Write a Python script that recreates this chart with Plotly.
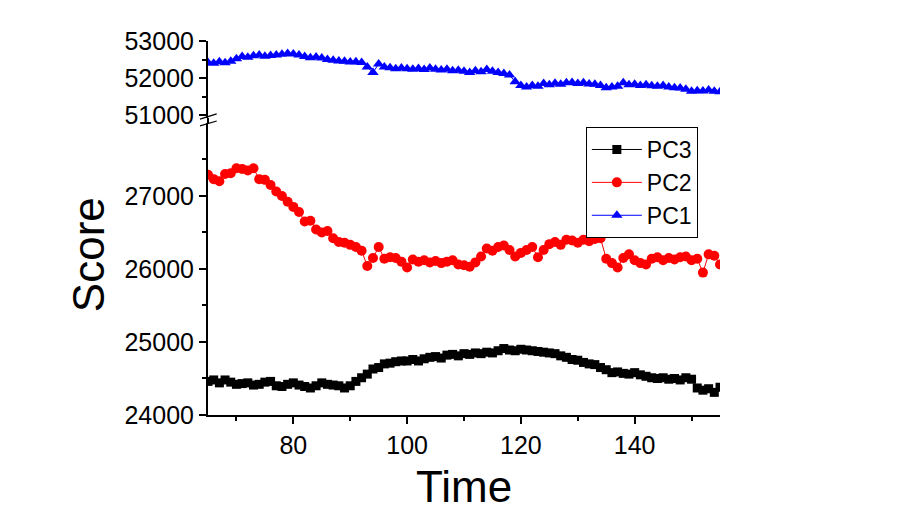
import plotly.graph_objects as go

time = list(range(65, 156))

pc1 = [52420, 52400, 52440, 52410, 52450, 52520,
       52580, 52560, 52600, 52620, 52590,
       52610, 52620, 52640, 52660, 52650,
       52620, 52580, 52550, 52570, 52540,
       52500, 52480, 52460, 52450, 52430,
       52440, 52420, 52300, 52150, 52380,
       52300, 52280, 52250, 52270, 52250,
       52240, 52260, 52230, 52270, 52240,
       52220, 52240, 52200, 52210, 52180,
       52150, 52200, 52170, 52230, 52180,
       52150, 52120, 52080, 51900, 51800,
       51760, 51800, 51780, 51850, 51820,
       51860, 51830, 51870, 51880, 51850,
       51870, 51840, 51830, 51800, 51740,
       51760, 51780, 51870, 51820, 51830,
       51800, 51820, 51790, 51780, 51800,
       51760, 51740, 51730, 51700, 51640,
       51660, 51650, 51680, 51640, 51630]

pc2 = [27290, 27230, 27200, 27300, 27310, 27380, 27370, 27350, 27380, 27230,
       27220, 27150, 27060, 27000, 26920, 26850, 26780, 26650, 26660, 26540,
       26500, 26520, 26420, 26370, 26360, 26330, 26300, 26250, 26040, 26150,
       26300, 26140, 26160, 26150, 26100, 26020, 26130, 26100, 26120, 26090,
       26110, 26080, 26100, 26120, 26060, 26050, 26030, 26090, 26170, 26280,
       26250, 26300, 26320, 26260, 26170, 26220, 26260, 26300, 26160, 26260,
       26340, 26370, 26330, 26400, 26390, 26360, 26400, 26380, 26410, 26420,
       26140, 26080, 26020, 26150, 26200, 26120, 26080, 26060, 26140, 26160,
       26120, 26150, 26130, 26160, 26170, 26120, 26140, 25950, 26200, 26180,
       26060]

pc3 = [24460, 24480, 24440, 24480, 24450, 24420, 24430, 24440, 24410, 24420,
       24450, 24460, 24400, 24390, 24420, 24440, 24410, 24390, 24370, 24400,
       24440, 24420, 24410, 24400, 24370, 24400, 24460, 24510, 24560, 24630,
       24650, 24700, 24710, 24730, 24740, 24740, 24760, 24740, 24770, 24790,
       24800, 24780, 24820, 24830, 24810, 24840, 24830, 24850, 24840, 24860,
       24850, 24880, 24910, 24890, 24880, 24900, 24890, 24880, 24870, 24860,
       24850, 24840, 24810, 24790, 24760, 24750, 24720, 24700, 24690, 24650,
       24620, 24580, 24590, 24570, 24560, 24580, 24550, 24530, 24510, 24500,
       24510, 24490, 24500, 24480, 24510, 24490, 24370, 24340, 24360, 24310,
       24380]

lower_ticks = [24000, 25000, 26000, 27000]
lower_minor = [24500, 25500, 26500, 27500]
upper_ticks = [51000, 52000, 53000]
upper_minor = [51500, 52500]
x_ticks = [80, 100, 120, 140]
x_minor = [70, 90, 110, 130, 150]

FONT = "Liberation Sans, Arial, sans-serif"

fig = go.Figure()
fig.add_trace(go.Scatter(x=time, y=pc3, name="PC3", mode="lines+markers",
                         line=dict(color="black", width=1),
                         marker=dict(symbol="square", size=9, color="black"),
                         yaxis="y"))
fig.add_trace(go.Scatter(x=time, y=pc2, name="PC2", mode="lines+markers",
                         line=dict(color="red", width=1),
                         marker=dict(symbol="circle", size=10, color="red"),
                         yaxis="y"))
fig.add_trace(go.Scatter(x=time, y=pc1, name="PC1", mode="lines+markers",
                         line=dict(color="blue", width=1),
                         marker=dict(symbol="triangle-up", size=10, color="blue"),
                         yaxis="y2"))

axis_common = dict(showline=True, linecolor="black", linewidth=2, ticks="outside",
                   ticklen=7, tickwidth=2, tickcolor="black", showgrid=False,
                   zeroline=False, tickfont=dict(family=FONT, size=25, color="black"))

def minor(vals):
    return dict(tickvals=vals, ticklen=4, tickwidth=2, tickcolor="black", ticks="outside",
                showgrid=False)

fig.update_layout(
    width=903, height=505,
    margin=dict(l=200, r=191, t=33, b=98),
    paper_bgcolor="white", plot_bgcolor="white",
    font=dict(family=FONT, color="black"),
    xaxis=dict(range=[65, 155], tickvals=x_ticks, anchor="y",
               minor=minor(x_minor), **axis_common),
    yaxis=dict(domain=[0, 0.781], range=[24000, 28000], tickvals=lower_ticks,
               minor=minor(lower_minor), tickformat="d", anchor="x", **axis_common),
    yaxis2=dict(domain=[0.794, 1], range=[50920, 53000], tickvals=upper_ticks,
                minor=minor(upper_minor), tickformat="d", anchor="x", **axis_common),
    legend=dict(x=0.738, y=0.770, xanchor="left", yanchor="top",
                bordercolor="black", borderwidth=1, bgcolor="white",
                font=dict(family=FONT, size=23, color="black"),
                itemwidth=50, tracegroupgap=0),
    showlegend=True,
)

# axis titles
fig.add_annotation(text="Time", x=0.5, y=-0.19, xref="paper", yref="paper",
                   xanchor="center", yanchor="middle", showarrow=False,
                   font=dict(family=FONT, size=44, color="black"))
fig.add_annotation(text="Score", x=-0.232, y=0.428, xref="paper", yref="paper",
                   xanchor="center", yanchor="middle", showarrow=False, textangle=-90,
                   font=dict(family=FONT, size=44, color="black"))

# axis break marks
fig.add_shape(type="line", xref="paper", yref="paper", x0=0, x1=0, y0=0.781, y1=0.794,
              line=dict(color="black", width=2))
fig.add_shape(type="line", xref="paper", yref="paper", x0=-0.0156, x1=0.017, y0=0.791, y1=0.805,
              line=dict(color="black", width=1.2))
fig.add_shape(type="line", xref="paper", yref="paper", x0=-0.0156, x1=0.017, y0=0.773, y1=0.786,
              line=dict(color="black", width=1.2))

fig.write_html("out.html")
